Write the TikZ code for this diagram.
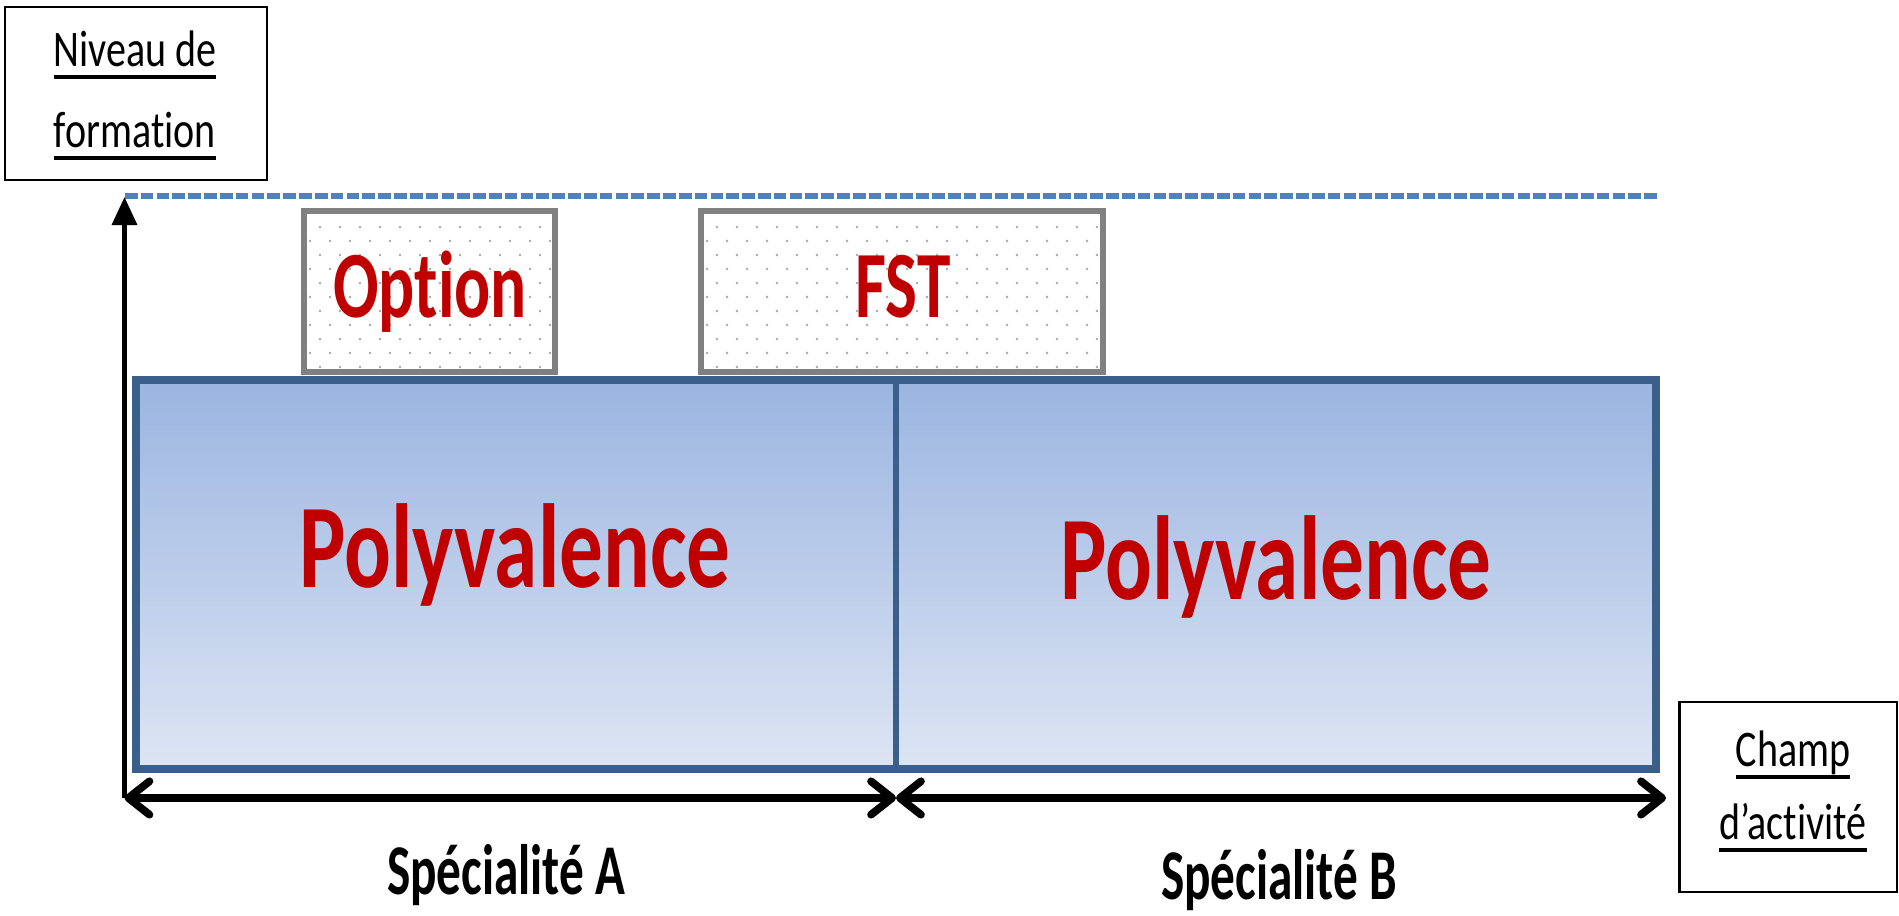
\documentclass[tikz,border=0pt]{standalone}
\usepackage{fontspec}
\setmainfont[Ligatures=NoCommon]{Carlito}
\usetikzlibrary{arrows.meta}
\definecolor{bleufonce}{HTML}{3A5F8B}
\definecolor{bleuhaut}{HTML}{9BB5E1}
\definecolor{bleubas}{HTML}{DDE5F3}
\definecolor{tirets}{HTML}{4F81BD}
\definecolor{rouge}{HTML}{C00000}
\definecolor{grisbord}{HTML}{808080}
\definecolor{point}{HTML}{A8A8A8}
\newcommand{\souligne}[1]{\setbox0=\hbox{#1}\rlap{\rule[-3.3pt]{\wd0}{0.9pt}}\box0}
\tikzset{
  cadre/.style={draw=black, line width=0.6pt, inner sep=0pt},
  pointille/.style={draw=grisbord, line width=1.8pt, fill=white, inner sep=0pt},
  etiq/.style={anchor=base, inner sep=0pt, font=\fontsize{14.6}{16}\selectfont, xscale=0.78},
  grand/.style={anchor=base, inner sep=0pt, text=rouge, font=\fontsize{34}{34}\selectfont\bfseries, xscale=0.73},
  moyen/.style={anchor=base, inner sep=0pt, text=rouge, font=\fontsize{27}{27}\selectfont\bfseries, xscale=0.71},
  spec/.style={anchor=base, inner sep=0pt, font=\fontsize{20.3}{21}\selectfont\bfseries, xscale=0.69},
}
\begin{document}
\begin{tikzpicture}[x=0.01cm, y=-0.01cm]
      \useasboundingbox (0,0) rectangle (1899,916);
      \draw[tirets, line width=1.7pt, dash pattern=on 3.6pt off 0.9pt] (125,196) -- (1657,196);
      \node[cadre, minimum width=2.61cm, minimum height=1.73cm] (niveau) at (136,93.5) {};
      \node[etiq] (niveau1) at (135,67) {\souligne{Niveau de}};
      \node[etiq] (niveau2) at (135,148) {\souligne{formation}};
      \node[cadre, minimum width=2.17cm, minimum height=1.90cm] (champ) at (1788,797) {};
      \node[etiq] (champ1) at (1793,767) {\souligne{Champ}};
      \node[etiq] (champ2) at (1793,840) {\souligne{d'activité}};
      \node[pointille, minimum width=2.51cm, minimum height=1.61cm] (boxOption) at (429.5,291.5) {};
      \begin{scope}
        \clip (boxOption.north west) rectangle (boxOption.south east);
        \foreach \r in {0,...,10}
          \foreach \c in {0,...,12}
            \fill[point] ({320-10*mod(\r,2)+20*\c},{227+14*\r}) circle (0.4pt);
      \end{scope}
      \node[pointille, minimum width=4.02cm, minimum height=1.61cm] (boxFST) at (902,291.5) {};
      \begin{scope}
        \clip (boxFST.north west) rectangle (boxFST.south east);
        \foreach \r in {0,...,10}
          \foreach \c in {0,...,19}
            \fill[point] ({717-10*mod(\r,2)+20*\c},{227+14*\r}) circle (0.4pt);
      \end{scope}
      \node[moyen] (option) at (430,318) {Option};
      \node[moyen] (fst) at (903,318) {FST};
      \draw[bleufonce, line width=2pt, top color=bleuhaut, bottom color=bleubas] (136,380) rectangle (1656,769);
      \draw[bleufonce, line width=1.6pt] (896,380) -- (896,769);
      \node[grand] (polyA) at (515,588) {Polyvalence};
      \node[grand] (polyB) at (1276,600) {Polyvalence};
      \coordinate (origine) at (124.5,798);
      \coordinate (sommet) at (124.5,197);
      \coordinate (milieu) at (896,798);
      \coordinate (bout) at (1666,798);
      \draw[line width=1.4pt, -{Triangle[length=8pt,width=7pt]}] (origine) -- (sommet);
      \draw[line width=2.2pt, {Straight Barb[length=6pt,width=9.5pt,round]}-{Straight Barb[length=6pt,width=9.5pt,round]}] (origine) -- (milieu);
      \draw[line width=2.2pt, {Straight Barb[length=6pt,width=9.5pt,round]}-{Straight Barb[length=6pt,width=9.5pt,round]}] (milieu) -- (bout);
      \node[spec] (specA) at (506,895) {Spécialité A};
      \node[spec] (specB) at (1279,900) {Spécialité B};
\end{tikzpicture}
\end{document}
